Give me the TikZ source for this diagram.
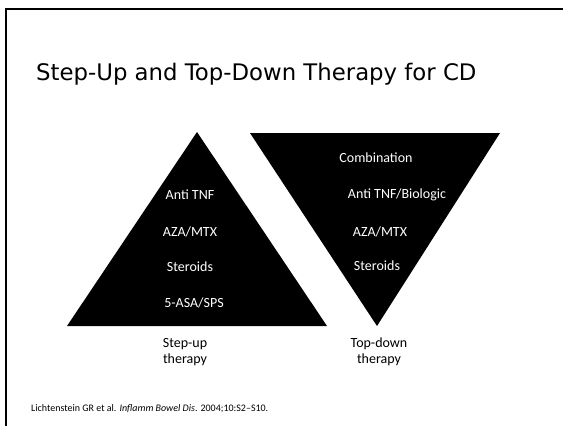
\documentclass[tikz,border=0pt]{standalone}
\usepackage{fontspec}
\setmainfont{Carlito}
\newfontfamily\titlefont{DejaVu Sans}
\begin{document}
\begin{tikzpicture}[x=1pt,y=-1pt,
  frameline/.style={line width=2.6pt},
  pyramid/.style={fill=black,draw=none},
  tierlabel/.style={text=white,font=\fontsize{14}{16}\selectfont,inner sep=0pt},
  caption/.style={text=black,font=\fontsize{14}{16}\selectfont,align=center,inner sep=0pt},
  titletext/.style={font=\titlefont\fontsize{22.8}{26}\selectfont,anchor=base west,inner sep=0pt},
  citetext/.style={font=\fontsize{10}{12}\selectfont,anchor=base west,inner sep=0pt}]
  \useasboundingbox (0,0) rectangle (563,426);

  % slide frame: top and left rules
  \coordinate (fl) at (6,426);
  \coordinate (ftl) at (6,9);
  \coordinate (ftr) at (563,9);
  \draw[frameline] (fl) -- (ftl) -- (ftr);

  % title
  \node[titletext] (title) at (36,80) {Step-Up and Top-Down Therapy for CD};

  % step-up pyramid
  \coordinate (ua) at (197,132);
  \coordinate (ul) at (67,326);
  \coordinate (ur) at (327,326);
  \fill[pyramid] (ua) -- (ur) -- (ul) -- cycle;

  % top-down pyramid
  \coordinate (dl) at (250,133);
  \coordinate (dr) at (500,133);
  \coordinate (da) at (377,326);
  \fill[pyramid] (dl) -- (dr) -- (da) -- cycle;

  % step-up tiers
  \node[tierlabel] (u1) at (190,195) {Anti TNF};
  \node[tierlabel] (u2) at (190,232) {AZA/MTX};
  \node[tierlabel] (u3) at (190,267) {Steroids};
  \node[tierlabel] (u4) at (194,303) {5-ASA/SPS};

  % top-down tiers
  \node[tierlabel] (d1) at (376,158) {Combination};
  \node[tierlabel] (d2) at (397,195) {Anti TNF/Biologic};
  \node[tierlabel] (d3) at (380,232) {AZA/MTX};
  \node[tierlabel] (d4) at (377,266) {Steroids};

  % captions
  \node[caption] (ucap) at (185,352) {Step-up\\therapy};
  \node[caption] (dcap) at (379,352) {Top-down\\therapy};

  % reference
  \node[citetext] (cite) at (31,411) {Lichtenstein GR et al. \textit{Inflamm Bowel Dis}. 2004;10:S2--S10.};
\end{tikzpicture}
\end{document}
